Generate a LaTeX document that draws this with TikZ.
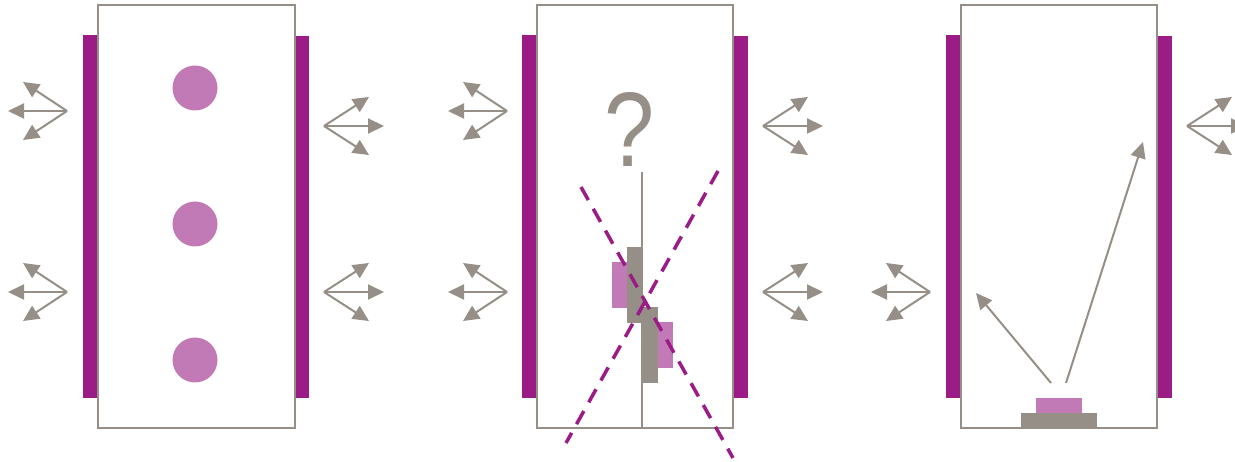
\documentclass[tikz,border=0pt]{standalone}
\usepackage{fontspec}
\setmainfont{Liberation Sans}
\usetikzlibrary{arrows.meta}
\definecolor{cgray}{HTML}{958F87}
\definecolor{cpurple}{HTML}{9C1C87}
\definecolor{clight}{HTML}{C27AB7}
\tikzset{
  frame/.style={draw=cgray,line width=2pt,fill=white},
  pbar/.style={fill=cpurple,draw=none},
  arr/.style={draw=cgray,line width=2pt,-{Triangle[length=16pt,width=15pt]}},
  xline/.style={draw=cpurple,line width=3.5pt,dash pattern=on 15pt off 10pt},
  dot/.style={circle,fill=clight,draw=none,minimum size=45pt,inner sep=0pt},
}
\newcommand{\fanL}[3]{% origin x,y ; name
  \coordinate (#3o) at (#1,#2);
  \coordinate (#3a) at ({#1-44},{#2-29});
  \coordinate (#3b) at ({#1-59},{#2});
  \coordinate (#3c) at ({#1-44},{#2+29});
  \draw[arr] (#3o) -- (#3a);
  \draw[arr] (#3o) -- (#3b);
  \draw[arr] (#3o) -- (#3c);
}
\newcommand{\fanR}[3]{%
  \coordinate (#3o) at (#1,#2);
  \coordinate (#3a) at ({#1+45},{#2-29});
  \coordinate (#3b) at ({#1+60},{#2});
  \coordinate (#3c) at ({#1+45},{#2+29});
  \draw[arr] (#3o) -- (#3a);
  \draw[arr] (#3o) -- (#3b);
  \draw[arr] (#3o) -- (#3c);
}
\begin{document}
\begin{tikzpicture}[x=1pt,y=-1pt]
\useasboundingbox (0,0) rectangle (1235,462);
\clip (0,0) rectangle (1235,462);
% ---------- panel 1
\fill[pbar] (83,35) rectangle (98,398);
\fill[pbar] (295,36) rectangle (309,398);
\draw[frame] (98,5) rectangle (295,428);
\node[dot] (c1) at (195,88) {};
\node[dot] (c2) at (195,224) {};
\node[dot] (c3) at (195,360) {};
\fanL{67}{111}{fa}
\fanL{67}{292}{fb}
\fanR{324}{126}{fc}
\fanR{324}{292}{fd}
% ---------- panel 2
\fill[pbar] (522,35) rectangle (537,398);
\fill[pbar] (733,36) rectangle (748,398);
\draw[frame] (537,5) rectangle (733,428);
\fanL{507}{111}{fe}
\fanL{507}{292}{ff}
\fanR{763}{126}{fg}
\fanR{763}{292}{fh}
\node[text=cgray,font=\fontsize{106}{106}\selectfont,anchor=base,inner sep=0pt,xscale=0.85] (q) at (630,167) {?};
\coordinate (vt) at (642,172);
\coordinate (vb) at (642,428);
\draw[cgray,line width=2pt] (vt) -- (vb);
\fill[clight] (612,262) rectangle (627,308);
\fill[clight] (658,322) rectangle (673,368);
\fill[cgray] (627,247) rectangle (643,323);
\fill[cgray] (641,307) rectangle (658,383);
\coordinate (d1s) at (581,187);
\coordinate (d1e) at (733,458);
\coordinate (d2s) at (718,171);
\coordinate (d2e) at (566,443);
\draw[xline] (d1s) -- (d1e);
\draw[xline] (d2s) -- (d2e);
% ---------- panel 3
\fill[pbar] (946,35) rectangle (961,398);
\fill[pbar] (1157,36) rectangle (1172,398);
\draw[frame] (961,5) rectangle (1157,428);
\fanL{930}{292}{fi}
\fanR{1187}{126}{fj}
\fill[clight] (1036,398) rectangle (1082,413);
\fill[cgray] (1021,413) rectangle (1097,428);
\coordinate (s1) at (1051,383);
\coordinate (t1) at (976,293);
\coordinate (s2) at (1066,383);
\coordinate (t2) at (1143,142);
\draw[arr] (s1) -- (t1);
\draw[arr] (s2) -- (t2);
\end{tikzpicture}
\end{document}
